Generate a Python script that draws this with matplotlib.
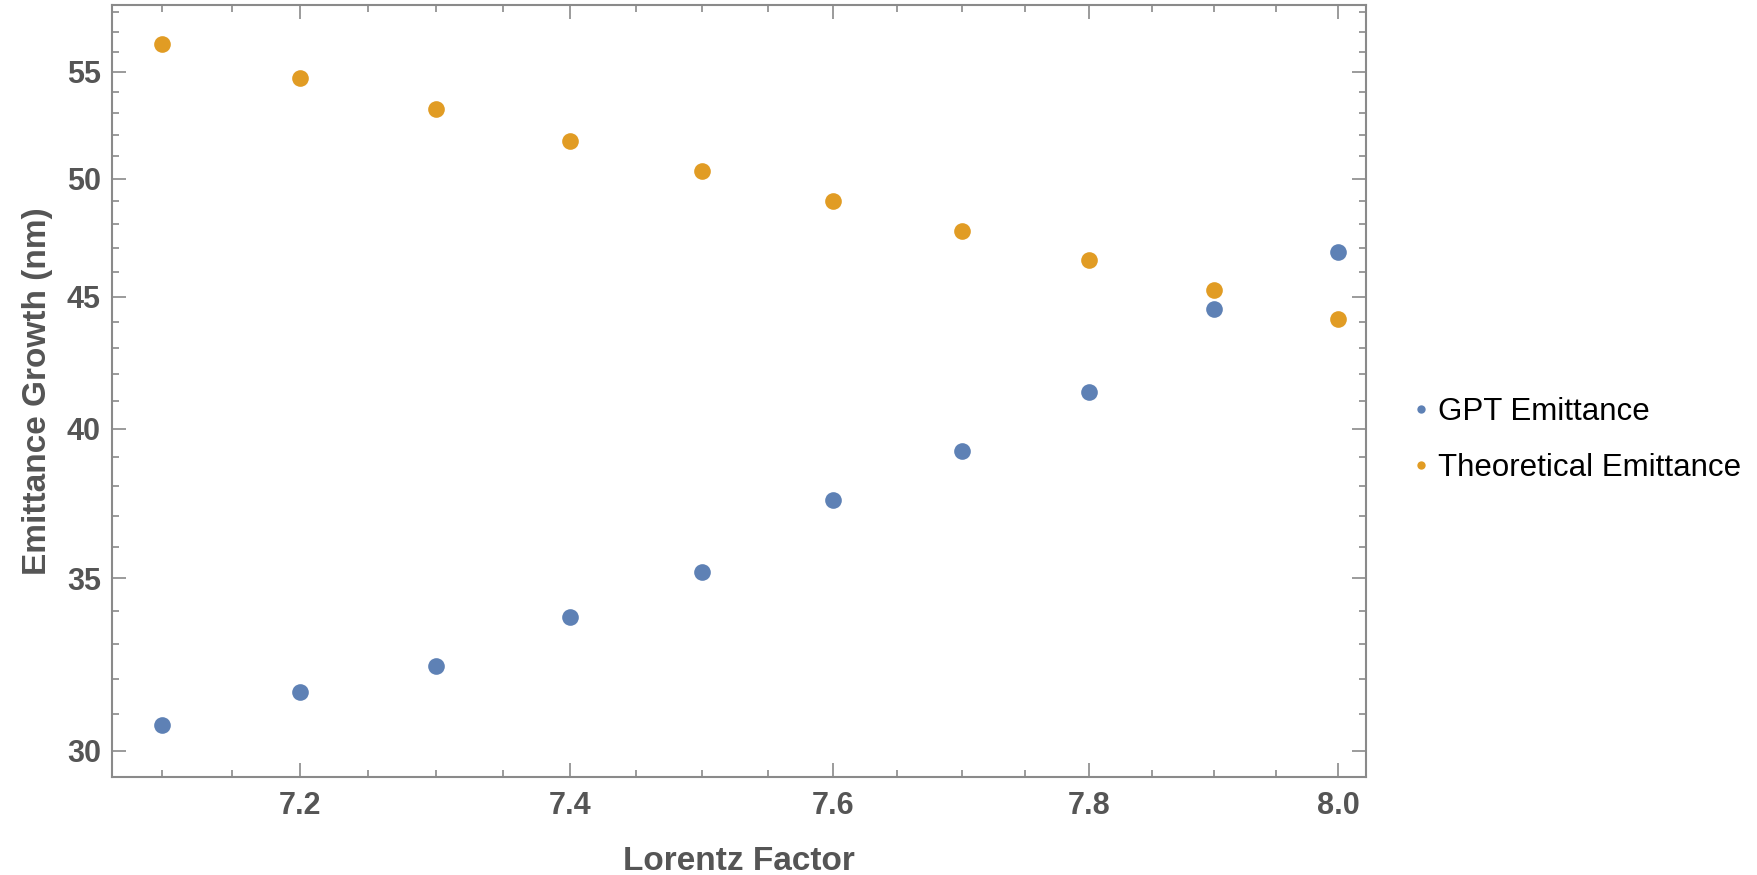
import numpy as np
import matplotlib.pyplot as plt
from matplotlib.ticker import FixedLocator, FormatStrFormatter, NullFormatter
from matplotlib.lines import Line2D

plt.rcParams["font.family"] = ["Liberation Sans", "DejaVu Sans"]

# data (log-log plot)
lorentz = [7.1, 7.2, 7.3, 7.4, 7.5, 7.6, 7.7, 7.8, 7.9, 8.0]
gpt_emit = [30.70, 31.63, 32.36, 33.82, 35.20, 37.52, 39.20, 41.33, 44.51, 46.83]
theory_emit = [56.39, 54.72, 53.21, 51.70, 50.32, 49.03, 47.73, 46.50, 45.27, 44.11]

series_names = ["GPT Emittance", "Theoretical Emittance"]
x_major = [7.2, 7.4, 7.6, 7.8, 8.0]
x_minor = [7.1, 7.15, 7.25, 7.3, 7.35, 7.45, 7.5, 7.55, 7.65, 7.7, 7.75, 7.85, 7.9, 7.95]
y_major = [30, 35, 40, 45, 50, 55]
y_minor = [29, 31, 32, 33, 34, 36, 37, 38, 39, 41, 42, 43, 44, 46, 47, 48, 49,
           51, 52, 53, 54, 56, 57, 58]

blue = "#5E81B5"
orange = "#E19C24"
frame_col = "#8a8a8a"
text_col = "#555555"

fig = plt.figure(figsize=(17.57, 8.75), dpi=100)
ax = fig.add_axes([0.0637, 0.112, 0.7138, 0.8823])

ax.plot(lorentz, gpt_emit, "o", color=blue, markersize=12, markeredgewidth=0)
ax.plot(lorentz, theory_emit, "o", color=orange, markersize=12, markeredgewidth=0)

ax.set_xscale("log")
ax.set_yscale("log")
ax.set_xlim(7.0637, 8.0228)
ax.set_ylim(29.31, 58.38)

ax.xaxis.set_major_locator(FixedLocator(x_major))
ax.xaxis.set_minor_locator(FixedLocator(x_minor))
ax.xaxis.set_major_formatter(FormatStrFormatter("%.1f"))
ax.xaxis.set_minor_formatter(NullFormatter())
ax.yaxis.set_major_locator(FixedLocator(y_major))
ax.yaxis.set_minor_locator(FixedLocator(y_minor))
ax.yaxis.set_major_formatter(FormatStrFormatter("%d"))
ax.yaxis.set_minor_formatter(NullFormatter())

for s in ax.spines.values():
    s.set_color(frame_col)
    s.set_linewidth(1.5)

ax.tick_params(which="both", direction="in", top=True, right=True,
               color=frame_col, width=1.2)
ax.tick_params(which="major", length=10)
ax.tick_params(which="minor", length=5)
ax.tick_params(axis="x", which="major", pad=10, labelsize=22, labelcolor=text_col)
ax.tick_params(axis="y", which="major", pad=8, labelsize=22, labelcolor=text_col)
for lab in ax.get_xticklabels() + ax.get_yticklabels():
    lab.set_fontweight("bold")

ax.set_xlabel("Lorentz Factor", fontsize=24, fontweight="bold", color=text_col, labelpad=18)
ax.set_ylabel("Emittance Growth (nm)", fontsize=24, fontweight="bold", color=text_col, labelpad=10)

handles = [Line2D([], [], ls="", marker="o", color=blue, markersize=6, markeredgewidth=0),
           Line2D([], [], ls="", marker="o", color=orange, markersize=6, markeredgewidth=0)]
fig.legend(handles, series_names, loc="center left", bbox_to_anchor=(0.7875, 0.497),
           frameon=False, fontsize=22.5, handlelength=0.6, handletextpad=0.25,
           labelspacing=0.82)

fig.savefig("out.png", dpi=100)
